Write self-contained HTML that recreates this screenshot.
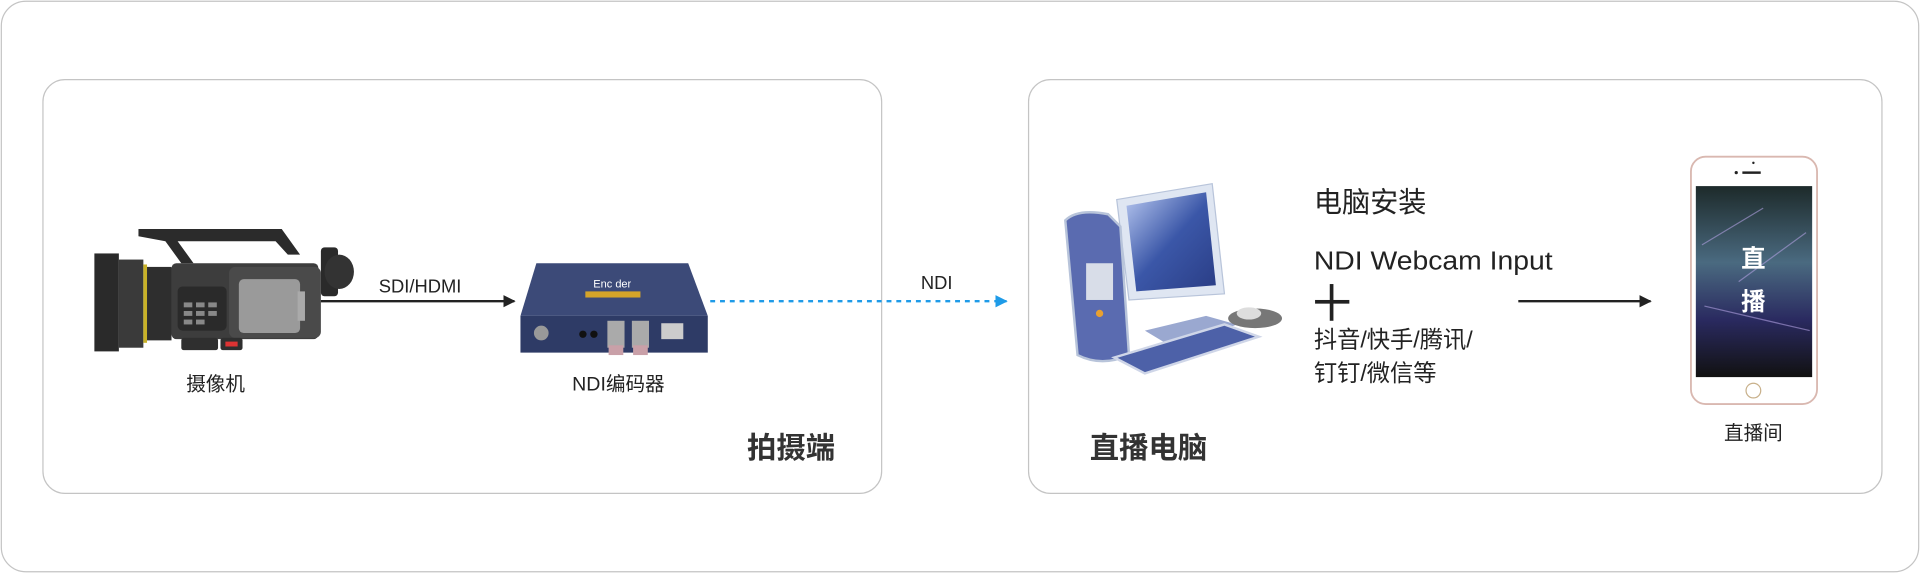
<!DOCTYPE html>
<html><head><meta charset="utf-8"><style>
html,body{margin:0;padding:0;background:#fff;}
svg{display:block;}
text{font-family:"Liberation Sans","Noto Sans CJK SC",sans-serif;}
</style></head><body>
<svg width="1920" height="573" viewBox="0 0 1568 468" xmlns="http://www.w3.org/2000/svg">
<defs>
<marker id="ah" markerWidth="10" markerHeight="10" refX="9" refY="5" orient="auto" markerUnits="userSpaceOnUse"><path d="M0,0 L10,5 L0,10 Z" fill="#222"/></marker>
<marker id="bh" markerWidth="10" markerHeight="10" refX="9" refY="5" orient="auto" markerUnits="userSpaceOnUse"><path d="M0,0 L10,5 L0,10 Z" fill="#1e9be8"/></marker>
<linearGradient id="scr" x1="0" y1="0" x2="0" y2="1"><stop offset="0" stop-color="#1d2a2a"/><stop offset="0.4" stop-color="#4a6a80"/><stop offset="0.7" stop-color="#2a2a60"/><stop offset="1" stop-color="#111"/></linearGradient>
<linearGradient id="mon" x1="0" y1="0" x2="1" y2="1"><stop offset="0" stop-color="#b8c8f0"/><stop offset="0.5" stop-color="#3b57a8"/><stop offset="1" stop-color="#2a3d85"/></linearGradient>
</defs>
<rect x="1" y="1" width="1566" height="466" rx="20" fill="#fff" stroke="#c4c4c4" stroke-width="1"/>
<rect x="35" y="65" width="685" height="338" rx="18" fill="#fff" stroke="#c4c4c4"/>
<rect x="840" y="65" width="697" height="338" rx="18" fill="#fff" stroke="#c4c4c4"/>

<!-- camera -->
<g>
<rect x="77" y="207" width="20" height="80" fill="#2a2a2a"/>
<rect x="97" y="212" width="20" height="72" fill="#3a3a3a"/>
<rect x="117" y="216" width="3" height="64" fill="#c9b228"/>
<rect x="120" y="218" width="20" height="60" fill="#2e2e2e"/>
<path d="M113,193 L113,187 L230,187 L245,208 L235,208 L225,197 L145,197 L158,215 L148,215 L135,197 Z" fill="#2b2b2b"/>
<rect x="140" y="215" width="120" height="62" rx="4" fill="#3d3d3d"/>
<rect x="187" y="218" width="75" height="58" rx="5" fill="#4a4a4a"/>
<rect x="195" y="228" width="50" height="44" rx="4" fill="#9a9a9a"/>
<rect x="243" y="238" width="6" height="24" fill="#aaa"/>
<rect x="262" y="202" width="14" height="40" rx="3" fill="#2a2a2a"/>
<ellipse cx="277" cy="222" rx="12" ry="14" fill="#333"/>
<rect x="145" y="234" width="40" height="36" rx="4" fill="#2a2a2a"/>
<g fill="#888"><rect x="150" y="247" width="7" height="4"/><rect x="160" y="247" width="7" height="4"/><rect x="170" y="247" width="7" height="4"/><rect x="150" y="254" width="7" height="4"/><rect x="160" y="254" width="7" height="4"/><rect x="170" y="254" width="7" height="4"/><rect x="150" y="261" width="7" height="4"/><rect x="160" y="261" width="7" height="4"/></g>
<rect x="148" y="276" width="30" height="10" rx="2" fill="#2f2f2f"/>
<rect x="180" y="276" width="18" height="10" rx="2" fill="#2f2f2f"/>
<rect x="184" y="279" width="10" height="4" fill="#d33"/>
</g>
<line x1="262" y1="246" x2="420" y2="246" stroke="#222" stroke-width="2" marker-end="url(#ah)"/>
<text x="343" y="239" font-size="15" fill="#222" text-anchor="middle">SDI/HDMI</text>

<!-- encoder -->
<path d="M438,215 L562,215 L578,258 L425,258 Z" fill="#3c4a78"/>
<rect x="425" y="258" width="153" height="30" fill="#2e3b66"/>
<text x="500" y="235" font-size="9" fill="#fff" text-anchor="middle">Enc der</text>
<rect x="478" y="238" width="45" height="5" fill="#d4a42a"/>
<circle cx="442" cy="272" r="6" fill="#999"/>
<rect x="496" y="262" width="14" height="22" fill="#aaa"/><rect x="516" y="262" width="14" height="22" fill="#aaa"/>
<rect x="497" y="282" width="12" height="8" fill="#c9a0a8"/><rect x="517" y="282" width="12" height="8" fill="#c9a0a8"/>
<rect x="540" y="264" width="18" height="13" fill="#ccc"/>
<circle cx="476" cy="273" r="3" fill="#111"/><circle cx="485" cy="273" r="3" fill="#111"/>

<line x1="580" y1="246" x2="822" y2="246" stroke="#1e9be8" stroke-width="2" stroke-dasharray="4,4" marker-end="url(#bh)"/>
<text x="765" y="236" font-size="15" fill="#222" text-anchor="middle">NDI</text>

<text x="176" y="319" font-size="16" fill="#222" text-anchor="middle">摄像机</text>
<text x="505" y="319" font-size="16" fill="#222" text-anchor="middle">NDI编码器</text>
<text x="646" y="374" font-size="24" font-weight="bold" fill="#333" text-anchor="middle">拍摄端</text>
<text x="938" y="374" font-size="24" font-weight="bold" fill="#333" text-anchor="middle">直播电脑</text>

<!-- computer -->
<path d="M912,163 L990,150 L1000,240 L922,245 Z" fill="#dfe6f2" stroke="#b8c4da"/>
<path d="M920,168 L985,157 L993,233 L928,238 Z" fill="url(#mon)"/>
<path d="M935,270 L985,258 L1010,265 L960,285 Z" fill="#9aa8d0"/>
<path d="M870,180 Q880,170 905,175 L915,185 L922,290 Q900,300 880,290 Z" fill="#5a6bb0" stroke="#b8c4da" stroke-width="2"/>
<rect x="887" y="215" width="22" height="30" fill="#d8dde8"/>
<circle cx="898" cy="256" r="3" fill="#e8a030"/>
<path d="M910,292 L1000,265 L1028,275 L935,305 Z" fill="#4d61a8" stroke="#cfd6e8" stroke-width="2"/>
<ellipse cx="1025" cy="260" rx="22" ry="8" fill="#777"/>
<ellipse cx="1020" cy="256" rx="10" ry="5" fill="#ddd"/>

<text x="1073" y="173" font-size="23" fill="#222">电脑安装</text>
<text x="1073" y="220" font-size="21" fill="#222" textLength="195" lengthAdjust="spacingAndGlyphs">NDI Webcam Input</text>
<rect x="1074" y="245" width="28" height="3" fill="#222"/><rect x="1086" y="232" width="3" height="30" fill="#222"/>
<text x="1073" y="284" font-size="19" fill="#222">抖音/快手/腾讯/</text>
<text x="1073" y="311" font-size="19" fill="#222">钉钉/微信等</text>
<line x1="1240" y1="246" x2="1348" y2="246" stroke="#222" stroke-width="2" marker-end="url(#ah)"/>

<!-- phone -->
<rect x="1381" y="128" width="103" height="202" rx="12" fill="#fff" stroke="#d9b8b0" stroke-width="1.5"/>
<rect x="1385" y="152" width="95" height="156" fill="url(#scr)"/>
<g stroke="#b0a0e0" stroke-width="1" opacity="0.6"><line x1="1390" y1="200" x2="1440" y2="170"/><line x1="1475" y1="190" x2="1420" y2="230"/><line x1="1392" y1="250" x2="1478" y2="270"/></g>
<rect x="1423" y="140" width="15" height="2" fill="#222"/><circle cx="1432" cy="133" r="1" fill="#222"/><circle cx="1418" cy="141" r="1.3" fill="#222"/>
<circle cx="1432" cy="319" r="6" fill="none" stroke="#c8b08a"/>
<text x="1432" y="218" font-size="20" font-weight="bold" fill="#fff" text-anchor="middle">直</text>
<text x="1432" y="253" font-size="20" font-weight="bold" fill="#fff" text-anchor="middle">播</text>
<text x="1432" y="359" font-size="16" fill="#222" text-anchor="middle">直播间</text>
</svg>
</body></html>
